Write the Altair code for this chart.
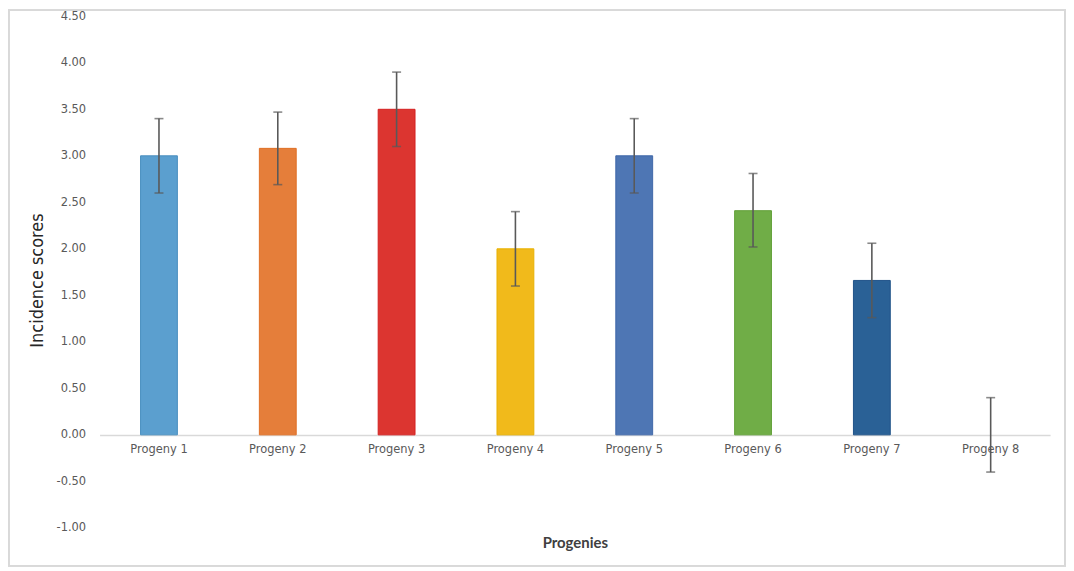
import altair as alt
import pandas as pd

categories = ["Progeny 1", "Progeny 2", "Progeny 3", "Progeny 4",
              "Progeny 5", "Progeny 6", "Progeny 7", "Progeny 8"]
values = [3.00, 3.08, 3.50, 2.00, 3.00, 2.41, 1.66, 0.00]
err_low = [2.60, 2.69, 3.10, 1.60, 2.60, 2.02, 1.26, -0.40]
err_high = [3.40, 3.47, 3.90, 2.40, 3.40, 2.81, 2.06, 0.40]
colors = ["#5B9FCF", "#E57E3A", "#DC3530", "#F1BA1B",
          "#4E76B4", "#70AD47", "#2A6196", "rgba(0,0,0,0)"]
strokes = ["#4A8FC0", "#E07025", "#D42020", "#E8B000",
           "#3F68A8", "#62A038", "#1F5288", "rgba(0,0,0,0)"]
y_ticks = [-1.0, -0.5, 0, 0.5, 1.0, 1.5, 2.0, 2.5, 3.0, 3.5, 4.0, 4.5]

df = pd.DataFrame({"cat": categories, "val": values,
                   "lo": err_low, "hi": err_high})

W, H = 955, 514

xenc = alt.X("cat:N", sort=categories,
             scale=alt.Scale(paddingInner=0.69, paddingOuter=0.345),
             axis=alt.Axis(title="Progenies", labelAngle=0, ticks=False,
                           domainColor="#D9D9D9", domainWidth=1.5,
                           offset=-93.4, labelPadding=9,
                           labelFont="DejaVu Sans", labelFontSize=11.5,
                           labelColor="#595959",
                           titleFont="Lato", titleFontSize=15, titleFontWeight="bold",
                           titleColor="#404040", titleY=108, titleBaseline="middle"))

yscale = alt.Scale(domain=[-1.0, 4.5], nice=False, zero=False)

bars = alt.Chart(df).mark_bar(strokeWidth=1).encode(
    x=xenc,
    y=alt.Y("val:Q", scale=yscale,
            axis=alt.Axis(title="Incidence scores", values=y_ticks,
                          labelExpr="replace(format(datum.value, '.2f'), '\u2212', '-')",
                          grid=False, domain=False, ticks=False,
                          labelPadding=14, labelFont="DejaVu Sans", labelFontSize=11.5,
                          labelColor="#595959",
                          titleFont="DejaVu Sans Condensed, Noto Sans", titleFontSize=18,
                          titleFontWeight="normal", titleColor="#262626",
                          titleX=-62, titleY=265, titleAngle=-90,
                          titleBaseline="middle", titleAlign="center")),
    y2=alt.datum(0),
    color=alt.Color("cat:N", scale=alt.Scale(domain=categories, range=colors), legend=None),
    stroke=alt.Stroke("cat:N", scale=alt.Scale(domain=categories, range=strokes), legend=None),
)

rules = alt.Chart(df).mark_rule(color="#595959", strokeWidth=1.6).encode(
    x=alt.X("cat:N", sort=categories),
    y=alt.Y("lo:Q", scale=yscale),
    y2="hi:Q",
)

caps_hi = alt.Chart(df).mark_tick(color="#595959", thickness=1.6, size=9).encode(
    x=alt.X("cat:N", sort=categories),
    y=alt.Y("hi:Q", scale=yscale),
)
caps_lo = alt.Chart(df).mark_tick(color="#595959", thickness=1.6, size=9).encode(
    x=alt.X("cat:N", sort=categories),
    y=alt.Y("lo:Q", scale=yscale),
)

border = alt.Chart(df).mark_rect(fill=None, stroke="#D9D9D9", strokeWidth=1.5, clip=False).encode(
    x=alt.value(-91), x2=alt.value(W + 15),
    y=alt.value(-6), y2=alt.value(H + 38),
)

chart = alt.layer(border, bars, rules, caps_hi, caps_lo).properties(
    width=W, height=H,
    autosize=alt.AutoSizeParams(type="none"),
    padding={"left": 92, "top": 7, "right": 16, "bottom": 39},
    background="white",
).configure_view(stroke=None)

chart.save("out.html", embed_options={"renderer": "svg", "actions": False})
